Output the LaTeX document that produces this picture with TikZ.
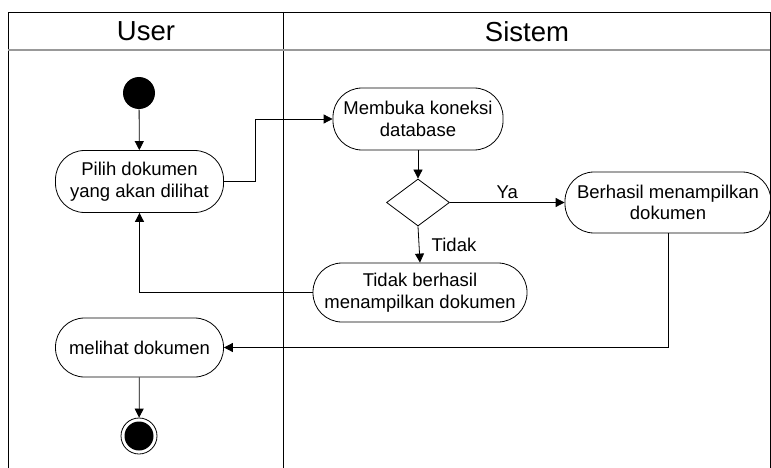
\documentclass[tikz,border=0pt]{standalone}
\usepackage{fontspec}
\setmainfont{Liberation Sans}
\usetikzlibrary{shapes.geometric,arrows.meta}
\begin{document}
\begin{tikzpicture}[x=1pt,y=-1pt,
  line width=0.8pt,
  flow/.style={-{Triangle[length=9pt,width=9pt]}},
  act/.style={draw, rounded corners=29pt, align=center, inner sep=0pt,
    font=\fontsize{18.5}{21.5}\selectfont},
  lbl/.style={font=\fontsize{18.5}{21}\selectfont},
  lane/.style={font=\fontsize{27.5}{30}\selectfont}]
  \useasboundingbox (0,0) rectangle (771,468);

  % swimlane frame
  \draw (8,468) -- (8,12) -- (770,12) -- (770,468);
  \draw (283,12) -- (283,468);
  \draw[gray!80, line width=1.6pt] (8,50) -- (770,50);
  \node[lane] (laneuser) at (146,31.5) {User};
  \node[lane] (lanesys) at (527,31.5) {Sistem};

  % activities
  \node[circle, fill=black, minimum size=32pt, inner sep=0pt] (start) at (139,93) {};
  \node[act, minimum width=168pt, minimum height=62pt] (pilih) at (139.5,181.5) {Pilih dokumen\\yang akan dilihat};
  \node[act, minimum width=170pt, minimum height=62pt] (buka) at (418,119) {Membuka koneksi\\database};
  \node[diamond, draw, minimum width=63pt, minimum height=47pt, inner sep=0pt] (dec) at (418,202.5) {};
  \node[act, minimum width=206pt, minimum height=61pt] (ok) at (668,202.5) {Berhasil menampilkan\\dokumen};
  \node[act, minimum width=214pt, minimum height=59pt] (fail) at (420,292.5) {Tidak berhasil\\menampilkan dokumen};
  \node[act, minimum width=168pt, minimum height=59pt] (lihat) at (139.5,347.5) {melihat dokumen};
  \node[circle, draw, minimum size=36pt, inner sep=0pt] (stop) at (139,436) {};
  \node[circle, fill=black, minimum size=29pt, inner sep=0pt] (stopdot) at (stop.center) {};

  % control flow
  \draw[flow] (start) -- (pilih);
  \draw[flow] (pilih.east) -- ++(31,0) |- (buka.west);
  \draw[flow] (buka) -- (dec);
  \draw[flow] (dec.east) -- node[above, pos=0.5, lbl] {Ya} (ok.west);
  \draw[flow] (dec.south) -- node[right, pos=0.5, xshift=9pt, lbl] {Tidak} (fail.north);
  \draw[flow] (fail.west) -| (pilih.south);
  \draw[flow] (ok.south) |- (lihat.east);
  \draw[flow] (lihat) -- (stop);
\end{tikzpicture}
\end{document}
